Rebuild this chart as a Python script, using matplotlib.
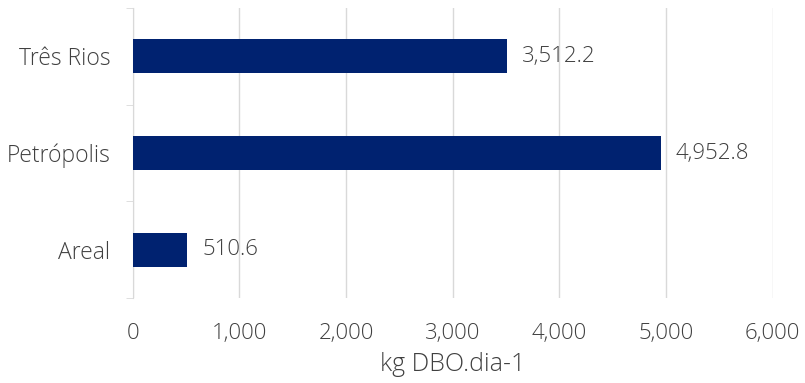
import matplotlib.pyplot as plt
from matplotlib.ticker import FuncFormatter
import numpy as np

cities = ['Areal', 'Petrópolis', 'Três Rios']
carga = [510.6, 4952.8, 3512.2]
xticks = [0, 1000, 2000, 3000, 4000, 5000, 6000]

plt.rcParams['font.family'] = ['Open Sans', 'DejaVu Sans']

fig = plt.figure(figsize=(8.05, 3.83), dpi=100)
ax = fig.add_axes([0.165, 0.222, 0.795, 0.757])

y = np.arange(len(cities))
ax.barh(y, carga, height=0.35, color='#002270', zorder=3)

for yi, v in zip(y, carga):
    ax.text(v + 140, yi, f'{v:,.1f}', va='center', ha='left',
            fontsize=16, color='#404040', fontweight='light')

ax.set_xlim(0, 6000)
ax.set_ylim(-0.5, len(cities) - 0.5)
ax.set_xticks(xticks)
ax.xaxis.set_major_formatter(FuncFormatter(lambda v, p: f'{v:,.0f}'))
ax.set_yticks(y)
ax.set_yticklabels(cities)
ax.set_yticks(np.arange(len(cities) + 1) - 0.5, minor=True)

ax.grid(axis='x', color='#d9d9d9', linewidth=1, zorder=0)
for s in ['top', 'right', 'bottom']:
    ax.spines[s].set_visible(False)
ax.spines['left'].set_color('#d9d9d9')

ax.tick_params(axis='x', length=0, pad=18, labelsize=16, labelcolor='#404040')
ax.tick_params(axis='y', which='major', length=0, pad=16, labelsize=16.5, labelcolor='#404040')
ax.tick_params(axis='y', which='minor', length=5, color='#d9d9d9')
for t in ax.get_xticklabels() + ax.get_yticklabels():
    t.set_fontweight('light')

ax.set_xlabel('kg DBO.dia-1', fontsize=18, color='#404040', fontweight='light', labelpad=6)

fig.savefig('out.png', dpi=100)
